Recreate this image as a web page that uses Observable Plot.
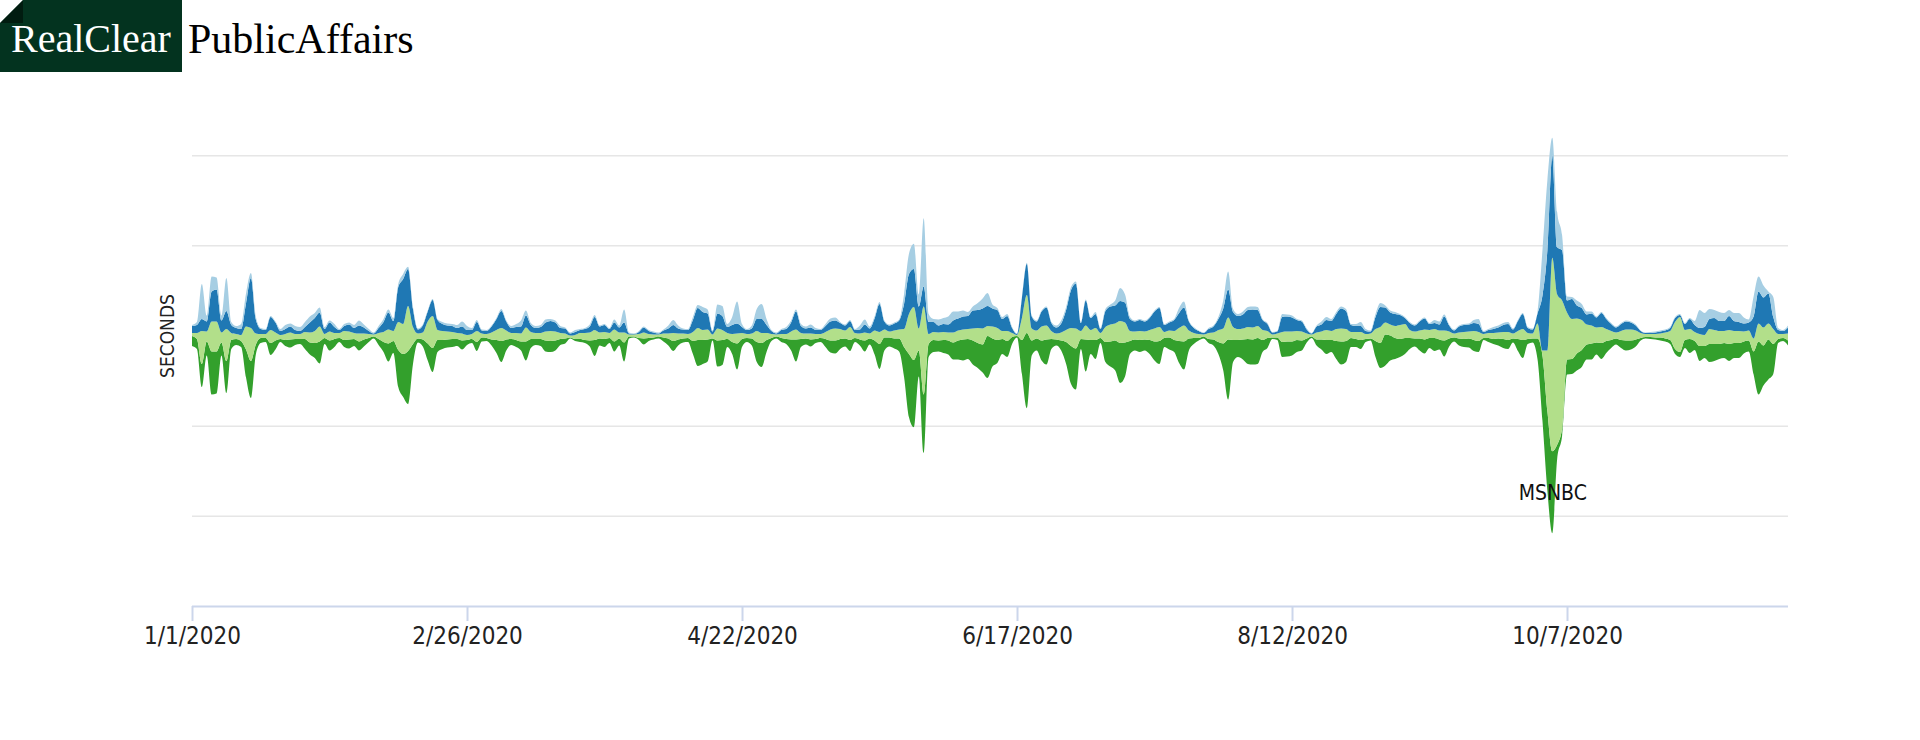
<!DOCTYPE html>
<html>
<head>
<meta charset="utf-8">
<script src="https://cdn.jsdelivr.net/npm/d3@7"></script>
<script src="https://cdn.jsdelivr.net/npm/@observablehq/plot@0.6"></script>
<style>
  html, body { margin: 0; padding: 0; background: #fff; }
  body { width: 1920px; height: 740px; overflow: hidden; position: relative; }
  #logo { position: absolute; left: 0; top: 0; width: 460px; height: 72px; z-index: 2; }
  #logo .box { position: absolute; left: 0; top: 0; width: 182px; height: 72px; background: #03331f;
    clip-path: polygon(23px 0, 100% 0, 100% 100%, 0 100%, 0 23px); }
  #logo .fold { position: absolute; left: 0; top: 0; width: 23px; height: 23px; background: #011c10;
    clip-path: polygon(0 100%, 100% 0, 100% 100%); }
  #logo .rc { position: absolute; left: 11px; top: 19px; font-family: "Liberation Serif", "DejaVu Serif", serif;
    font-size: 40px; line-height: 40px; color: #fff; white-space: nowrap; }
  #logo .pa { position: absolute; left: 188px; top: 18px; font-family: "Liberation Serif", "DejaVu Serif", serif;
    font-size: 42px; line-height: 42px; color: #000; white-space: nowrap; }
  #chart { position: absolute; left: 0; top: 0; }
  #chart svg text { font-stretch: condensed; }
</style>
</head>
<body>
<div id="logo">
  <div class="box"><div class="fold"></div><span class="rc">RealClear</span></div>
  <span class="pa">PublicAffairs</span>
</div>
<div id="chart"></div>
<script>
// Daily values (seconds), 1 Jan 2020 onward, one value per day
const seriesNames = ["BBC News", "CNN", "Fox News", "MSNBC"];
const seriesColors = ["#a6cee3", "#1f78b4", "#b2df8a", "#33a02c"];
const tickLabels = ["1/1/2020", "2/26/2020", "4/22/2020", "6/17/2020", "8/12/2020", "10/7/2020"];

const bbc = [1,3,35,6,15,12,5,33,3,2,
 5,10,5,3,1,1,1,1,2,4,
 3,4,4,5,6,5,5,2,2,3,
 1,2,2,3,5,3,2,1,2,3,
 3,3,3,5,2,2,1,1,1,1,
 1,2,2,2,3,5,4,2,2,1,
 1,1,1,2,1,2,3,6,5,2,
 2,2,3,2,2,2,1,1,2,1,
 1,2,2,1,1,1,3,2,13,1,
 0.5,1,1,1,1,1,1,3,5,3,
 1,1,3,3,5,4,1,9,10,3,
 8,22,3,1,3,10,15,6,1,1,
 1,2,2,2,2,2,3,2,1,2,
 3,3,1,1,1,1,4,5,2,2,
 2,1,1,1,1,10,20,25,12,68,
 8,3,6,6,8,9,7,6,4,4,
 7,10,13,4,2,2,2,1,0.5,1,
 1,1,1,1,1,1,2,3,3,3,
 2,1,1,1,2,1,2,2,5,13,
 8,2,1,1,1,1,1,1,1,1,
 1,5,6,1,1,0.5,0.5,1,1,2,
 8,18,3,2,3,3,3,3,1,1,
 0.5,0.5,3,2,2,1,1,1,0.5,1,
 3,3,2,2,2,2,1,2,4,2,
 1,3,4,2,2,2,1,1,1,1,
 1,1,1,3,3,2,1,1,1,1,
 1,3,5,1,1,2,2,2,2,1,
 1,1,1,1,2,45,70,18,35,15,
 4,2,5,4,3,2,1,1,1,1,
 1,1,1,1,1,0.5,0.5,1,1,1,
 1,1,1,1,1,1,4,18,14,10,
 8,9,8,6,8,9,6,3,20,15,
 12,2,20,2,1,2];

const cnn = [7,8,12,10,30,32,12,18,8,6,
 6,23,50,14,5,4,13,10,4,5,
 6,4,3,5,10,13,14,5,9,6,
 3,5,7,5,8,6,3,1,5,10,
 17,10,35,45,37,18,4,7,10,16,
 10,7,6,6,5,7,5,4,9,3,
 3,6,11,17,9,5,6,7,12,7,
 5,6,9,10,9,5,5,2,3,3,
 4,6,13,6,7,4,7,5,10,1,
 0.5,2,5,3,2,1,3,5,8,5,
 4,4,12,20,18,16,3,15,14,6,
 9,10,6,4,5,12,14,8,3,1,
 4,5,9,18,7,5,6,4,4,6,
 8,8,6,5,6,3,4,8,5,12,
 28,8,6,7,9,25,40,38,22,20,
 12,10,7,8,8,12,12,13,13,18,
 18,20,20,18,18,12,15,5,1,20,
 31,12,9,15,18,8,6,9,20,38,
 45,8,25,12,14,4,16,18,18,20,
 20,12,10,11,10,12,17,19,7,8,
 11,15,18,9,5,3,1.5,4,6,11,
 20,28,15,13,14,17,18,16,10,7,
 2,2,15,15,14,11,10,4,1,6,
 7,10,10,15,20,18,7,6,6,3,
 2,12,20,15,12,12,10,6,7,6,
 9,11,6,6,6,14,6,3,6,7,
 7,8,8,2,3,4,5,7,8,4,
 10,15,5,4,10,55,100,102,47,50,
 12,20,13,12,10,12,10,14,10,7,
 5,7,8,7,5,2,1,1,1.5,2,
 2,3,4,2,6,10,7,6,8,10,
 12,10,10,14,10,9,8,8,22,32,
 30,30,12,4,3,6];

const fox = [3,6,33,10,30,30,10,32,7,5,
 6,23,33,11,4,4,13,8,4,6,
 7,5,5,7,10,12,15,4,9,6,
 5,9,8,6,8,6,4,2,6,10,
 14,10,28,30,45,17,5,7,22,32,
 10,9,8,7,6,7,5,5,11,4,
 4,7,10,13,9,6,7,8,14,7,
 6,6,9,10,9,6,5,2,4,6,
 7,8,10,6,7,5,12,6,10,2,
 2,4,6,4,3,2,4,5,8,6,
 5,4,9,12,10,10,4,12,10,6,
 8,10,6,4,5,11,10,7,4,2,
 4,5,8,10,6,5,6,5,4,7,
 11,12,10,8,13,5,6,8,5,10,
 12,8,6,8,9,18,40,53,22,88,
 10,8,8,8,8,10,10,10,10,12,
 15,16,10,12,12,8,10,4,1,22,
 38,12,8,14,14,8,6,8,12,18,
 20,8,14,10,12,5,15,17,17,22,
 20,10,8,9,8,10,13,14,6,7,
 9,13,16,8,5,4,2,6,7,12,
 15,22,13,11,11,12,12,12,10,7,
 3,4,10,10,10,9,9,5,2,7,
 8,10,9,12,13,12,6,7,8,5,
 5,12,16,12,11,12,14,14,8,7,
 8,10,8,9,9,10,7,4,6,7,
 7,9,9,4,5,6,6,7,8,5,
 8,11,6,5,15,5,60,193,150,128,
 47,40,35,30,20,18,15,16,12,9,
 6,9,11,11,9,5,3,3,3.5,4,
 6,9,27,35,10,10,9,12,11,15,
 14,13,12,14,12,12,10,10,13,18,
 18,16,15,5,4,7];

const msnbc = [10,10,23,14,43,42,13,32,9,6,
 6,28,37,10,5,4,12,9,3,6,
 8,6,5,10,12,15,22,6,10,8,
 4,7,9,7,9,7,4,2,6,10,
 18,12,37,43,53,20,4,7,17,24,
 12,9,8,8,7,9,5,4,9,4,
 3,6,13,21,11,6,7,9,19,9,
 6,7,11,11,10,6,5,1,2,3,
 3,6,16,7,8,5,10,7,19,2,
 1,2,6,3,2,2,4,7,10,6,
 4,4,13,26,24,22,2,26,25,8,
 12,26,8,4,7,20,24,12,3,2,
 4,5,11,22,8,6,7,4,4,8,
 12,13,10,8,11,4,6,11,6,14,
 25,13,9,10,13,30,63,67,26,58,
 13,12,11,13,14,17,19,21,20,24,
 25,28,42,28,23,15,16,7,1.5,34,
 75,15,12,20,25,10,6,10,22,38,
 41,10,32,14,19,5,20,25,30,40,
 34,13,11,12,11,14,19,23,9,12,
 12,22,28,12,6,2.5,2,4,6,12,
 27,60,22,17,20,25,25,26,12,10,
 1.5,2.5,15,15,14,12,10,4,1.5,6,
 10,14,12,18,23,21,9,8,9,3,
 2,16,25,31,25,21,18,16,11,8,
 12,14,10,13,10,16,8,4,7,8,
 9,11,11,2,4,5,7,9,9,4,
 12,18,5,4,21,65,80,82,14,7,
 15,15,17,17,15,16,12,16,12,8,
 6,8,10,9,7,2.5,1.5,2,2,3,
 3,4,5,5,8,14,9,15,12,18,
 17,15,15,17,15,15,12,11,23,53,
 40,40,30,4,3,5];

const seriesValues = [bbc, cnn, fox, msnbc];
const n = bbc.length;
seriesValues.forEach((arr, k) => {
  if (arr.length !== n) throw new Error(`length mismatch ${seriesNames[k]}: ${arr.length} vs ${n}`);
});

const start = Date.UTC(2020, 0, 1);
const dates = d3.range(n).map(i => new Date(start + i * 864e5));
const rows = dates.map((date, i) => {
  const r = {date};
  seriesNames.forEach((s, k) => r[s] = seriesValues[k][i]);
  return r;
});

// streamgraph: silhouette offset, MSNBC at bottom, BBC on top
const stackKeys = seriesNames.slice().reverse();
const stacked = d3.stack().keys(stackKeys).offset(d3.stackOffsetSilhouette)(rows);
const table = stacked.flatMap(layer => layer.map((p, i) => ({series: layer.key, date: dates[i], y1: p[0], y2: p[1]})));

const peak = d3.maxIndex(msnbc);
const labelRows = table.filter(r => r.series === "MSNBC" && +r.date === +dates[peak]);

const tickDates = tickLabels.map(s => { const [m, d, y] = s.split("/").map(Number); return new Date(Date.UTC(y, m - 1, d)); });
const fmt = d => `${d.getUTCMonth() + 1}/${d.getUTCDate()}/${d.getUTCFullYear()}`;

const condensed = '"DejaVu Sans Condensed", "DejaVu Sans", sans-serif';

const chart = Plot.plot({
  width: 1920,
  height: 740,
  marginLeft: 192,
  marginRight: 132,
  marginTop: 65,
  marginBottom: 134,
  style: {fontFamily: condensed, background: "transparent", color: "#222"},
  x: {type: "utc", domain: [dates[0], dates[n - 1]]},
  y: {domain: [-270, 270], axis: null},
  color: {domain: seriesNames, range: seriesColors},
  marks: [
    Plot.ruleY([-180, -90, 0, 90, 180], {stroke: "#e6e6e6", strokeWidth: 1.5}),
    Plot.areaY(table, {x: "date", y1: "y1", y2: "y2", z: "series", fill: "series", curve: "monotone-x"}),
    Plot.ruleY([-270], {stroke: "#ccd6eb", strokeWidth: 2}),
    Plot.axisX({ticks: tickDates, tickFormat: fmt, tickSize: 15, tickPadding: 5, stroke: "#ccd6eb", strokeWidth: 2,
      fill: "#222", fontSize: 24, label: null}),
    Plot.text(["SECONDS"], {frameAnchor: "left", dx: -25, rotate: -90, textAnchor: "middle", fontSize: 19, fill: "#222"}),
    Plot.text(labelRows, {x: "date", y: r => (r.y1 + r.y2) / 2, text: "series", fontSize: 21, fill: "#111"})
  ]
});
document.getElementById("chart").appendChild(chart);
</script>
</body>
</html>
